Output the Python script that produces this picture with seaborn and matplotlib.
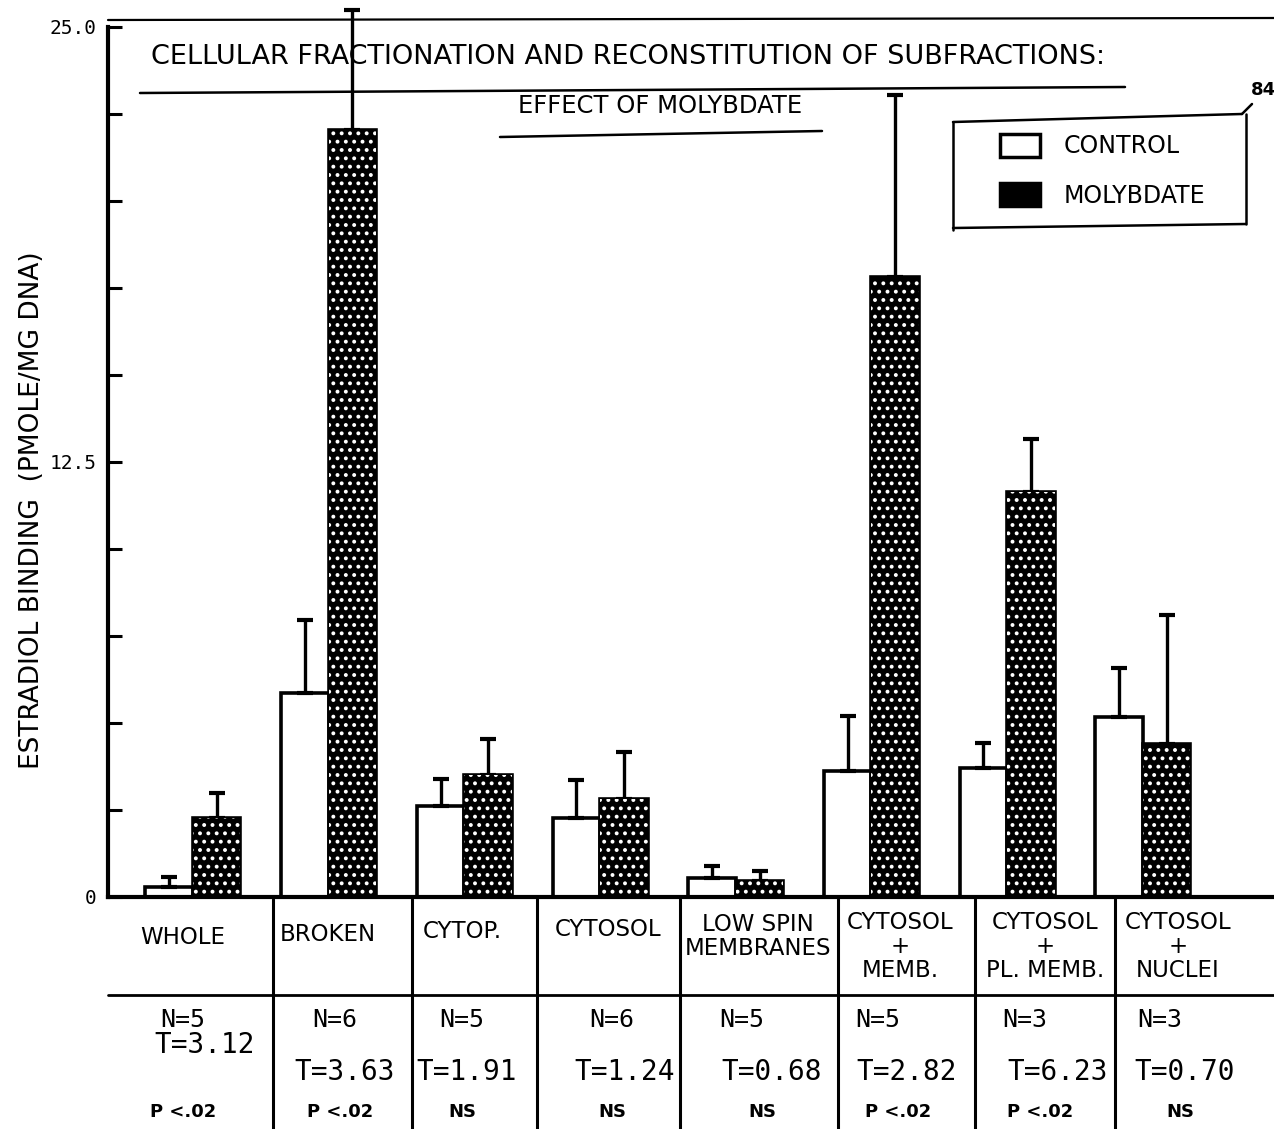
import matplotlib
matplotlib.use("Agg")
import matplotlib.pyplot as plt
from matplotlib.lines import Line2D
from matplotlib.patches import Patch, Rectangle
import numpy as np
import pandas as pd
import seaborn as sns

# ---- data -------------------------------------------------------------
fractions = ["Whole", "Broken", "Cytop.", "Cytosol", "Low Spin Membranes",
             "Cytosol + Memb.", "Cytosol + PL. Memb.", "Cytosol + Nuclei"]
control = [0.29, 5.86, 2.61, 2.27, 0.55, 3.62, 3.71, 5.17]
control_err = [0.28, 2.10, 0.78, 1.09, 0.34, 1.58, 0.72, 1.41]
molybdate = [2.27, 22.04, 3.51, 2.82, 0.46, 17.82, 11.64, 4.40]
molybdate_err = [0.72, 3.46, 1.03, 1.35, 0.29, 5.23, 1.52, 3.70]

header_lines = ["WHOLE", "BROKEN", "CYTOP.", "CYTOSOL", "LOW SPIN\nMEMBRANES",
                "CYTOSOL\n+\nMEMB.", "CYTOSOL\n+\nPL. MEMB.", "CYTOSOL\n+\nNUCLEI"]
n_labels = ["N=5", "N=6", "N=5", "N=6", "N=5", "N=5", "N=3", "N=3"]
t_labels = ["T=3.12", "T=3.63", "T=1.91", "T=1.24", "T=0.68", "T=2.82", "T=6.23", "T=0.70"]
p_labels = ["P <.02", "P <.02", "NS", "NS", "NS", "P <.02", "P <.02", "NS"]

df = pd.DataFrame({
    "fraction": fractions * 2,
    "treatment": ["Control"] * len(fractions) + ["Molybdate"] * len(fractions),
    "binding": control + molybdate,
})
errors = {"Control": control_err, "Molybdate": molybdate_err}

# ---- figure -----------------------------------------------------------
W, H = 1274, 1129
sns.set_theme(style="white")
plt.rcParams["font.family"] = ["DejaVu Sans"]
plt.rcParams["hatch.linewidth"] = 1.6
for key in ["text.color", "axes.labelcolor", "xtick.color", "ytick.color", "axes.edgecolor"]:
    plt.rcParams[key] = "black"

fig = plt.figure(figsize=(W / 100, H / 100), dpi=100)

def fx(px):
    return px / W

def fy(py):
    return 1 - py / H

ax = fig.add_axes([fx(108), fy(897), fx(1274) - fx(108), fy(27) - fy(897)])

sns.barplot(data=df, x="fraction", y="binding", hue="treatment",
            palette={"Control": "white", "Molybdate": "black"},
            edgecolor="black", linewidth=2.6, width=0.70,
            errorbar=None, legend=False, ax=ax)

# speckled texture on the molybdate bars
for bar in ax.containers[1]:
    ax.add_patch(Rectangle(bar.get_xy(), bar.get_width(), bar.get_height(),
                           fill=False, edgecolor="white", hatch="..",
                           linewidth=0, zorder=bar.get_zorder() + 0.1))

# one-sided (upper) error bars
for cont, level in zip(ax.containers, ["Control", "Molybdate"]):
    xs = [b.get_x() + b.get_width() / 2 for b in cont]
    ys = [b.get_height() for b in cont]
    errs = errors[level]
    ax.errorbar(xs, ys, yerr=[np.zeros(len(errs)), errs], fmt="none",
                ecolor="black", elinewidth=2.4, capsize=5.5, capthick=3,
                clip_on=False, zorder=1)

ax.set_xlim(-0.626, 7.966)
ax.set_ylim(0, 25)
ax.set_xlabel("")
ax.set_ylabel("")
ax.set_xticks(range(len(fractions)))
ax.set_xticklabels([])
ax.tick_params(axis="x", length=0)
ax.set_yticks([0, 12.5, 25.0])
ax.set_yticklabels(["0", "12.5", "25.0"], fontfamily="DejaVu Sans Mono", fontsize=14)
ax.set_yticks(np.arange(2.5, 25, 2.5), minor=True)
ax.tick_params(axis="y", which="both", direction="in", length=10, width=2.2,
               color="black", left=True, pad=8)
for side in ["top", "right"]:
    ax.spines[side].set_visible(False)
for side in ["left", "bottom"]:
    ax.spines[side].set_linewidth(3)
    ax.spines[side].set_color("black")

fig.text(fx(32), fy(510), "ESTRADIOL BINDING  (PMOLE/MG DNA)", rotation=90,
         ha="center", va="center", fontsize=19)

# ---- title block ------------------------------------------------------
def hline(x0, y0, x1, y1, lw=1.8):
    fig.add_artist(Line2D([fx(x0), fx(x1)], [fy(y0), fy(y1)], color="black", lw=lw))

hline(108, 20, 1274, 18, lw=1.6)
fig.text(fx(628), fy(57), "CELLULAR FRACTIONATION AND RECONSTITUTION OF SUBFRACTIONS:",
         ha="center", va="center", fontsize=19.5)
hline(140, 93, 1125, 87)
fig.text(fx(660), fy(106), "EFFECT OF MOLYBDATE", ha="center", va="center", fontsize=17.5)
hline(500, 137, 822, 131)
fig.text(fx(1263), fy(90), "84", ha="center", va="center", fontsize=13, fontweight="bold")

# legend with a hand-drawn style frame
hline(953, 122, 1242, 114)
hline(1242, 114, 1252, 104)
hline(953, 122, 953, 230)
hline(953, 228, 1246, 224)
hline(1246, 114, 1246, 224)
handles = [Patch(facecolor="white", edgecolor="black", linewidth=2.5, label="CONTROL"),
           Patch(facecolor="black", edgecolor="black", linewidth=2.5, label="MOLYBDATE")]
leg = fig.legend(handles=handles, loc="upper left", bbox_to_anchor=(fx(1000), fy(134)),
                 frameon=False, fontsize=17, handlelength=1.7, handleheight=1.1,
                 handletextpad=1.0, labelspacing=1.05, borderpad=0, borderaxespad=0)

# ---- table below the axis ---------------------------------------------
dividers = [273, 412, 537, 680, 838, 975, 1115]
for xd in dividers:
    hline(xd, 899, xd, 1129, lw=2.2)
hline(108, 995, 1274, 995, lw=2.0)

header_x = [183, 328, 462, 608, 758, 900, 1045, 1178]
header_y = [926, 923, 920, 918, 913, 911, 911, 911]
n_x = [183, 335, 462, 612, 742, 878, 1025, 1160]
t_x = [205, 345, 467, 625, 772, 907, 1058, 1185]
t_y = [1045, 1072, 1072, 1072, 1072, 1072, 1072, 1072]
p_x = [183, 340, 462, 612, 762, 898, 1040, 1180]

for i in range(len(fractions)):
    fig.text(fx(header_x[i]), fy(header_y[i]), header_lines[i], ha="center", va="top",
             fontsize=16.5, linespacing=1.05)
    fig.text(fx(n_x[i]), fy(1020), n_labels[i], ha="center", va="center",
             fontsize=18, fontfamily="DejaVu Sans Mono")
    fig.text(fx(t_x[i]), fy(t_y[i]), t_labels[i], ha="center", va="center",
             fontsize=20, fontfamily="DejaVu Sans Mono")
    fig.text(fx(p_x[i]), fy(1112), p_labels[i], ha="center", va="center",
             fontsize=13, fontweight="bold")

fig.savefig("out.png", dpi=100, facecolor="white")
